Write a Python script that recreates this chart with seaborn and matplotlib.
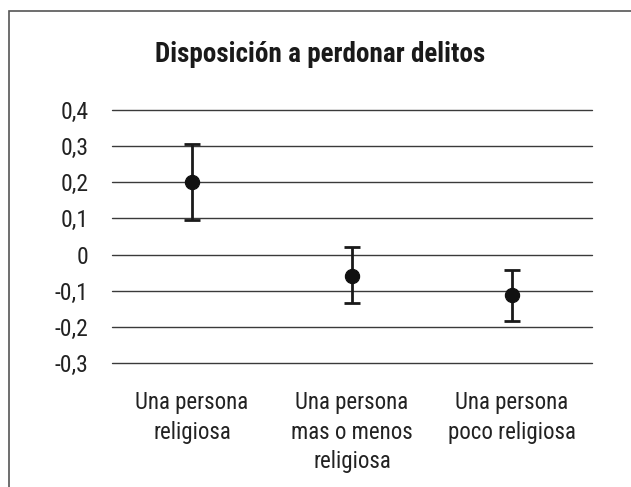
import matplotlib
matplotlib.use("Agg")
import matplotlib.pyplot as plt
import seaborn as sns
import pandas as pd
from matplotlib.patches import Rectangle

categories = ["Una persona\nreligiosa", "Una persona\nmas o menos\nreligiosa", "Una persona\npoco religiosa"]
means = [0.20, -0.058, -0.113]
lower = [0.097, -0.135, -0.183]
upper = [0.305, 0.020, -0.044]
yticks = [0.4, 0.3, 0.2, 0.1, 0.0, -0.1, -0.2, -0.3]
ytick_labels = ["0,4", "0,3", "0,2", "0,1", "0", "-0,1", "-0,2", "-0,3"]
title = "Disposición a perdonar delitos"

sns.set_theme(style="white")
plt.rcParams["font.family"] = ["Roboto Condensed", "DejaVu Sans"]

df = pd.DataFrame({"cat": categories, "mean": means, "low": lower, "high": upper})

fig = plt.figure(figsize=(6.31, 4.87), dpi=100)
ax = fig.add_axes([112/631, 1-363/487, 480/631, (363-110)/487])

for y in yticks:
    ax.axhline(y, color="#3a3a3a", lw=1.0, zorder=1, clip_on=False)

xs = list(range(len(categories)))
yerr = [[m - l for m, l in zip(df["mean"], df["low"])],
        [h - m for m, h in zip(df["mean"], df["high"])]]
ax.errorbar(xs, df["mean"], yerr=yerr, fmt="none", ecolor="#1a1a1a",
            elinewidth=2.0, capsize=6, capthick=2.0, zorder=3)
sns.scatterplot(x=xs, y=df["mean"], ax=ax, color="#111111", s=105,
                edgecolor="#111111", zorder=4, legend=False)

ax.set_xlim(-0.5, 2.5)
ax.set_ylim(-0.3, 0.4)
ax.set_xticks(xs)
ax.set_xticklabels(categories, fontsize=16.5, color="#222222", linespacing=1.38)
ax.set_yticks(yticks)
ax.set_yticklabels(ytick_labels, fontsize=17, color="#222222")
ax.tick_params(axis="y", length=0, pad=17)
ax.tick_params(axis="x", length=0, pad=20)
ax.set_xlabel("")
ax.set_ylabel("")
for s in ax.spines.values():
    s.set_visible(False)

fig.text(320/631, 1-55/487, title, ha="center", va="center", fontsize=19.5,
         fontweight="bold", color="#1a1a1a")

fig.patches.append(Rectangle((9/631, -0.1), 1.2, 1.1 - 11/487,
                             transform=fig.transFigure, fill=False,
                             edgecolor="#555555", lw=1.2, clip_on=False))

fig.savefig("out.png", dpi=100)
